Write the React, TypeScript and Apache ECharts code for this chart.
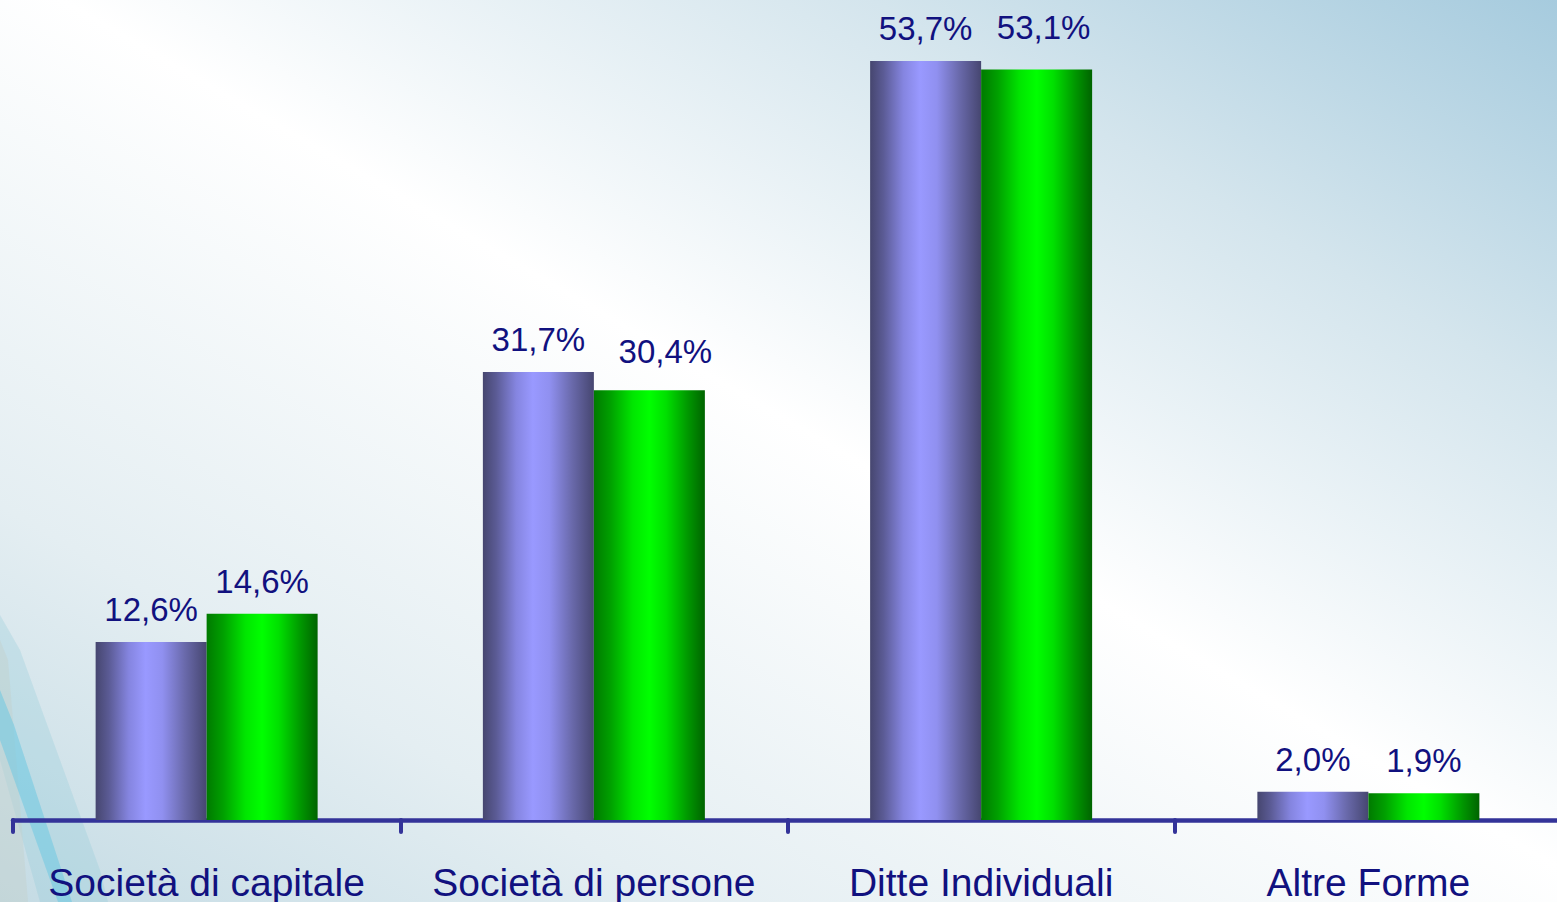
import React, { useEffect, useRef } from "react";
import * as echarts from "echarts";

const categories = ["Società di capitale", "Società di persone", "Ditte Individuali", "Altre Forme"];
const seriesNames = ["Serie 1", "Serie 2"];
const valuesA = [12.6, 31.7, 53.7, 2.0];
const valuesB = [14.6, 30.4, 53.1, 1.9];

// label nudges (style only)
const offsetsA = [[0, 0], [0, 0], [0, 0], [0, 0]];
const offsetsB = [[0, 0], [16, -6], [7, -10], [0, 0]];

const TEXT = "#11117f";
const FONT = "'Liberation Sans', Arial, sans-serif";

const fmt = (v: number) => v.toFixed(1).replace(".", ",") + "%";

const purpleGrad = new echarts.graphic.LinearGradient(0, 0, 1, 0, [
  { offset: 0, color: "#46466f" },
  { offset: 0.12, color: "#5b5b95" },
  { offset: 0.3, color: "#8585e0" },
  { offset: 0.45, color: "#9999ff" },
  { offset: 0.6, color: "#9090f0" },
  { offset: 0.8, color: "#6a6aac" },
  { offset: 1, color: "#464670" },
]);
const greenGrad = new echarts.graphic.LinearGradient(0, 0, 1, 0, [
  { offset: 0, color: "#007a00" },
  { offset: 0.15, color: "#00a000" },
  { offset: 0.35, color: "#00e600" },
  { offset: 0.5, color: "#00ff00" },
  { offset: 0.65, color: "#00e000" },
  { offset: 0.85, color: "#009600" },
  { offset: 1, color: "#006400" },
]);

function mkData(vals: number[], offs: number[][]) {
  return vals.map((v, i) => ({ value: v, label: { offset: offs[i] } }));
}

export default function App() {
  const ref = useRef<HTMLDivElement>(null);
  useEffect(() => {
    if (!ref.current) return;
    const chart = echarts.init(ref.current, undefined, { renderer: "svg" });
    const label = {
      show: true,
      position: "top",
      distance: 16,
      color: TEXT,
      fontSize: 33,
      fontFamily: FONT,
      formatter: (p: any) => fmt(p.value),
    };
    chart.setOption({
      animation: false,
      graphic: [
        {
          type: "rect",
          left: 0,
          top: 0,
          z: -10,
          silent: true,
          shape: { width: 1557, height: 902 },
          style: {
            fill: new echarts.graphic.LinearGradient(1, 0, 0, 1, [
              { offset: 0, color: "#a6cbde" },
              { offset: 0.22, color: "#d4e5ed" },
              { offset: 0.48, color: "#ffffff" },
              { offset: 0.78, color: "#e4eef2" },
              { offset: 1, color: "#c4dbe4" },
            ]),
          },
        },
        {
          type: "polygon",
          z: -9,
          silent: true,
          shape: { points: [[0, 615], [20, 650], [100, 870], [108, 902], [40, 902], [0, 760]] },
          style: { fill: "rgba(140,200,215,0.28)" },
        },
        {
          type: "polygon",
          z: -9,
          silent: true,
          shape: { points: [[0, 640], [8, 660], [28, 902], [0, 902]] },
          style: { fill: "rgba(195,208,205,0.45)" },
        },
        {
          type: "polygon",
          z: -8,
          silent: true,
          shape: { points: [[0, 690], [14, 725], [72, 902], [58, 902], [0, 740]] },
          style: { fill: "rgba(110,200,225,0.55)" },
        },
      ],
      grid: { left: 13, top: 0, width: 1549, bottom: 82, containLabel: false },
      xAxis: {
        type: "category",
        data: categories,
        offset: 1,
        axisLine: { show: true, lineStyle: { color: "#333399", width: 4.5 } },
        axisTick: { show: true, length: 12, lineStyle: { color: "#333399", width: 4, cap: "round" } },
        axisLabel: { color: TEXT, fontSize: 39, fontFamily: FONT, margin: 42, interval: 0 },
      },
      yAxis: {
        type: "value",
        min: 0,
        max: 58.02,
        show: false,
        splitLine: { show: false },
      },
      series: [
        {
          name: seriesNames[0],
          type: "bar",
          data: mkData(valuesA, offsetsA),
          barWidth: 111,
          barGap: "0%",
          itemStyle: { color: purpleGrad },
          label,
        },
        {
          name: seriesNames[1],
          type: "bar",
          data: mkData(valuesB, offsetsB),
          barWidth: 111,
          barGap: "0%",
          itemStyle: { color: greenGrad },
          label,
        },
      ],
    });
    return () => chart.dispose();
  }, []);
  return (
    <div
      style={{ position: "absolute", left: 0, top: 0, width: 1557, height: 902, overflow: "hidden" }}
    >
      <div ref={ref} style={{ width: 1580, height: 902 }} />
    </div>
  );
}
